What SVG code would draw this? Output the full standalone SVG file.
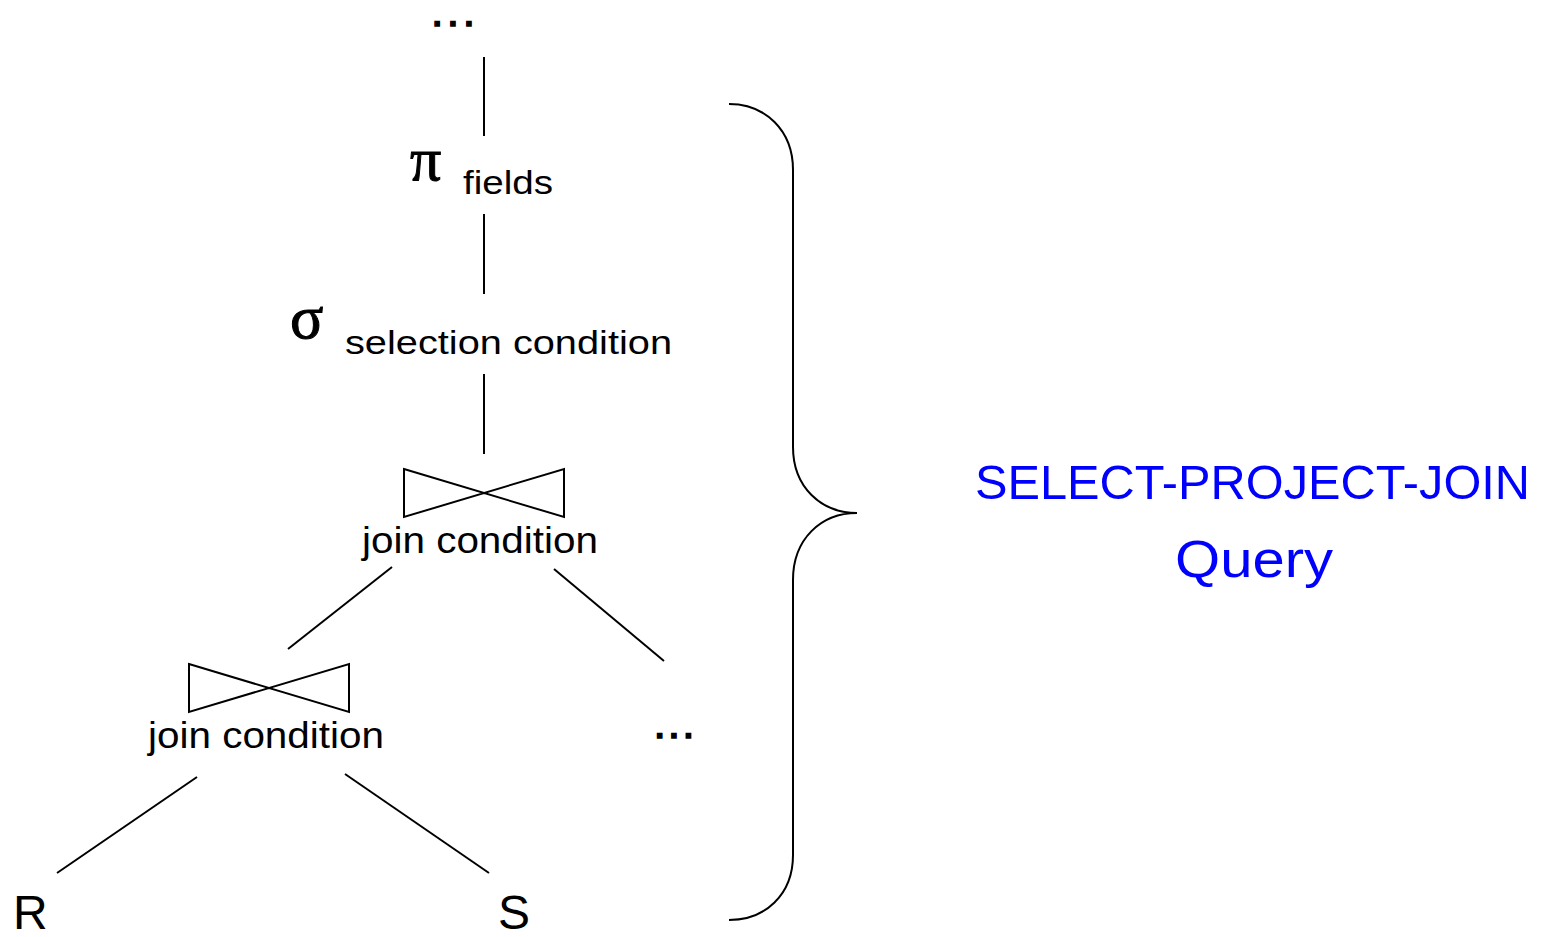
<svg xmlns="http://www.w3.org/2000/svg" width="1541" height="937" viewBox="0 0 1541 937">
<style>
.t{font-family:"Liberation Sans",Arial,sans-serif;fill:#000}
.d{font-family:"Liberation Sans",Arial,sans-serif;fill:#000;font-weight:bold;stroke:#000;stroke-width:1.5}
.g{font-family:"Liberation Serif","Times New Roman",serif;fill:#000;stroke:#000;stroke-width:1}
.b{font-family:"Liberation Sans",Arial,sans-serif;fill:#0000ff}
.ln{stroke:#000;stroke-width:2;fill:none}
</style>
<rect width="1541" height="937" fill="#fff"/>
<g id="connectors" class="ln">
<line x1="484" y1="57" x2="484" y2="136"/>
<line x1="484" y1="214" x2="484" y2="294"/>
<line x1="484" y1="374" x2="484" y2="454"/>
<line x1="392" y1="567" x2="288" y2="649"/>
<line x1="554" y1="569" x2="664" y2="661"/>
<line x1="197" y1="777" x2="57" y2="873"/>
<line x1="345" y1="774" x2="489" y2="873"/>
</g>
<g id="top-dots"><text class="d" x="453" y="26" font-size="30" text-anchor="middle" textLength="40" lengthAdjust="spacing">...</text></g>
<g id="project">
<text class="g" x="410" y="180" font-size="62">π</text>
<text class="t" x="463" y="194" font-size="34" textLength="90" lengthAdjust="spacingAndGlyphs">fields</text>
</g>
<g id="select">
<text class="g" x="290" y="338" font-size="62">σ</text>
<text class="t" x="345" y="354" font-size="34" textLength="327" lengthAdjust="spacingAndGlyphs">selection condition</text>
</g>
<g id="join1">
<path class="ln" d="M404 469 L564 517 L564 469 L404 517 Z"/>
<text class="t" x="362" y="553" font-size="36" textLength="236" lengthAdjust="spacingAndGlyphs">join condition</text>
</g>
<g id="join2">
<path class="ln" d="M189 664 L349 712 L349 664 L189 712 Z"/>
<text class="t" x="148" y="748" font-size="36" textLength="236" lengthAdjust="spacingAndGlyphs">join condition</text>
</g>
<g id="right-dots"><text class="d" x="674" y="738" font-size="30" text-anchor="middle" textLength="37" lengthAdjust="spacing">...</text></g>
<g id="R"><text class="t" x="13" y="929" font-size="48">R</text></g>
<g id="S"><text class="t" x="498" y="929" font-size="48">S</text></g>
<g id="brace"><path class="ln" d="M729 104 C765 104 793 130 793 170 L793 447 C793 487 821 513 857 513 C821 513 793 539 793 580 L793 855 C793 895 765 920 729 920"/></g>
<g id="label">
<text class="b" x="975" y="499" font-size="48" textLength="555" lengthAdjust="spacingAndGlyphs">SELECT-PROJECT-JOIN</text>
<text class="b" x="1175" y="577" font-size="52" textLength="158" lengthAdjust="spacingAndGlyphs">Query</text>
</g>
</svg>
